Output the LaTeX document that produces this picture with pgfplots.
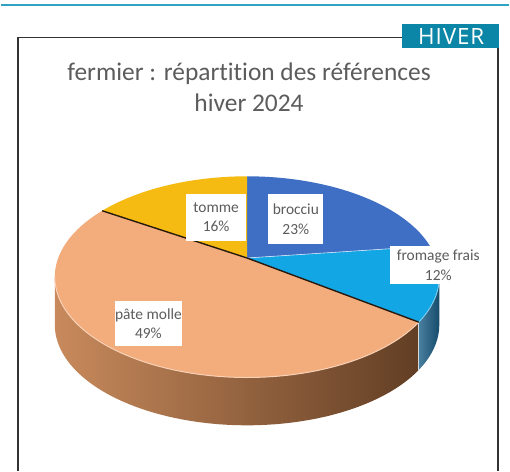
\documentclass[border=0pt]{standalone}
\usepackage{pgfplots}
\pgfplotsset{compat=1.18}
\usepackage{pgfplotstable}
\usepackage{fontspec}
\setmainfont{Carlito}[Ligatures=NoCommon]
\newfontfamily\tagfont{Open Sans}[LetterSpace=4]
\definecolor{tagteal}{HTML}{0C86A7}
\definecolor{lineteal}{HTML}{2FA3C4}
\definecolor{cbroc}{HTML}{3F6FC5}
\definecolor{cfrom}{HTML}{12A6E4}
\definecolor{cpate}{HTML}{F3AC7C}
\definecolor{ctomm}{HTML}{F5BB12}
\definecolor{fromside}{HTML}{1B5E86}
\definecolor{sideL}{HTML}{C88A5C}
\definecolor{sideM}{HTML}{A06A44}
\definecolor{sideR}{HTML}{623E24}
\definecolor{txtgray}{HTML}{5C5C5C}
\begin{document}
\pgfplotstableread{
label value
brocciu 23
fromage_frais 12
pate_molle 49
tomme 16
}\piedata
\begin{tikzpicture}[declare function={
 px(\a)=247+193*0.98217*sin(\a)/(1+0.188*cos(\a));
 py(\a)=195+101*(cos(\a)+0.188)/(1+0.188*cos(\a));
}]
\pgfplotstablegetelem{0}{value}\of\piedata \pgfmathsetmacro\aA{3.6*\pgfplotsretval}
\pgfplotstablegetelem{1}{value}\of\piedata \pgfmathsetmacro\aB{\aA+3.6*\pgfplotsretval}
\pgfplotstablegetelem{2}{value}\of\piedata \pgfmathsetmacro\aC{\aB+3.6*\pgfplotsretval}
\pgfplotstablegetelem{3}{value}\of\piedata \pgfmathsetmacro\aD{\aC+3.6*\pgfplotsretval}
\pgfmathsetmacro\rimR{acos(-0.188)}
\pgfmathsetmacro\rimL{360-\rimR}
\pgfmathsetmacro\cy{195+101*0.188}
\def\dep{48}
\begin{axis}[x=1pt,y=1pt,xmin=0,xmax=510,ymin=0,ymax=473,hide axis,clip=false,anchor=origin,at={(0,0)}]
\fill[white] (0,0) rectangle (510,473);
% top teal line
\draw[lineteal, line width=2pt] (0,468) -- (510,468);
% frame
\draw[black!80, line width=1.6pt] (17,0) -- (17,435.5) -- (499,435.5) -- (499,0);
% tag
\fill[tagteal] (403,425) rectangle (500,449);
\node[text=white, font=\tagfont\fontsize{22.5}{24}\selectfont] at (452,436.5) {HIVER};
% title
\node[text=txtgray, align=center, font=\fontsize{25.5}{31}\selectfont] at (249,385) {fermier : répartition des références\\hiver 2024};
% sides
\path[left color=fromside!80!white, right color=fromside!80!black]
  plot[domain=\rimR:\aB, samples=20, variable=\t] ({px(\t)},{py(\t)})
  -- plot[domain=\aB:\rimR, samples=20, variable=\t] ({px(\t)},{py(\t)-\dep}) -- cycle;
\path[left color=sideL, middle color=sideM, right color=sideR]
  plot[domain=\aB:\rimL, samples=60, variable=\t] ({px(\t)},{py(\t)})
  -- plot[domain=\rimL:\aB, samples=60, variable=\t] ({px(\t)},{py(\t)-\dep}) -- cycle;
\draw[white!70!gray, line width=0.6pt] ({px(\aB)},{py(\aB)}) -- ({px(\aB)},{py(\aB)-\dep});
% top slices
\fill[cbroc] (247,\cy) -- plot[domain=0:\aA, samples=40, variable=\t] ({px(\t)},{py(\t)}) -- cycle;
\fill[cfrom] (247,\cy) -- plot[domain=\aA:\aB, samples=30, variable=\t] ({px(\t)},{py(\t)}) -- cycle;
\fill[cpate] (247,\cy) -- plot[domain=\aB:\aC, samples=90, variable=\t] ({px(\t)},{py(\t)}) -- cycle;
\fill[ctomm] (247,\cy) -- plot[domain=\aC:\aD, samples=40, variable=\t] ({px(\t)},{py(\t)}) -- cycle;
% rim highlights
\draw[cpate!55!white, line width=1pt] plot[domain=\aB:\rimL, samples=60, variable=\t] ({px(\t)},{py(\t)});
\draw[cfrom!50!white, line width=0.8pt] plot[domain=\rimR:\aB, samples=20, variable=\t] ({px(\t)},{py(\t)});
% slice edges
\draw[white!80!cbroc, line width=0.6pt] (247,\cy) -- ({px(\aA)},{py(\aA)});
\draw[black!80!brown, line width=1.4pt] ({px(\aC)},{py(\aC)}) -- (247,\cy) -- ({px(\aB)},{py(\aB)});
% labels
\begin{scope}[every node/.style={fill=white, text=txtgray, align=center, inner sep=0pt, font=\fontsize{15.5}{20}\selectfont}]
\node[minimum width=60pt, minimum height=47pt] at (216,255) {tomme\\16\%};
\node[minimum width=55pt, minimum height=50pt] at (296,253) {brocciu\\23\%};
\node[minimum width=96pt, minimum height=38pt] at (439,207) {fromage frais\\12\%};
\node[minimum width=60pt, minimum height=45pt] at (148,148) {pâte molle\\49\%};
\end{scope}
\end{axis}
\end{tikzpicture}
\end{document}
